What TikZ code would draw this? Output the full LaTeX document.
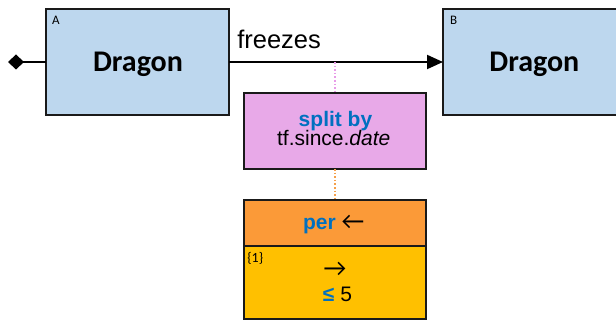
\documentclass[tikz,border=0pt]{standalone}
\usepackage{fontspec}
\setmainfont{Liberation Sans}
\newfontfamily\carlito{Carlito}
\usetikzlibrary{arrows.meta}
\definecolor{boxblue}{HTML}{BDD7EE}
\definecolor{pinkbox}{HTML}{E8A9E8}
\definecolor{orangebox}{HTML}{FB9A38}
\definecolor{yellowbox}{HTML}{FFC000}
\definecolor{txtblue}{HTML}{0070C0}
\definecolor{edgecol}{HTML}{1A1A1A}
\definecolor{pinkline}{HTML}{E89CE8}
\definecolor{orangeline}{HTML}{F5A04A}
\begin{document}
\begin{tikzpicture}[x=1pt,y=-1pt,
  shapebox/.style={draw=edgecol, line width=2pt, inner sep=0pt, outer sep=0pt},
  dragonbox/.style={shapebox, fill=boxblue, minimum width=183pt, minimum height=106pt},
  midbox/.style={shapebox, minimum width=182pt},
  txt/.style={inner sep=0pt, outer sep=0pt},
  dragontxt/.style={txt, anchor=base, font=\carlito\bfseries\fontsize{30}{34}\selectfont},
  tagtxt/.style={txt, anchor=base west, font=\carlito\fontsize{13}{15}\selectfont},
  bodytxt/.style={txt, anchor=base, font=\fontsize{21}{25}\selectfont},
  connector/.style={draw=black, line width=2pt},
  dotline/.style={line width=1.6pt, dotted}
]
\path[use as bounding box, clip] (0,0) rectangle (616,320);
\fill[white] (0,0) rectangle (616,320);

% boxes
\node[dragonbox] (A) at (137.5,62) {};
\node[dragonbox] (B) at (534.5,62) {};
\node[midbox, fill=pinkbox, minimum height=75.7pt] (P) at (335,131.2) {};
\node[midbox, fill=orangebox, minimum height=45.7pt] (O) at (335,222.8) {};
\node[midbox, fill=yellowbox, minimum height=73.6pt] (Y) at (335,282.5) {};

% texts
\node[dragontxt] (Atxt) at (138,71.5) {Dragon};
\node[dragontxt] (Btxt) at (534.3,71.5) {Dragon};
\node[tagtxt] (Atag) at (52,24.5) {A};
\node[tagtxt] (Btag) at (450,24.5) {B};
\node[txt, anchor=base west, font=\fontsize{25.5}{30}\selectfont] (fr) at (237.3,48.3) {freezes};
\node[bodytxt, font=\bfseries\fontsize{21}{25}\selectfont, text=txtblue] (sb) at (335.5,126.7) {split by};
\node[bodytxt] (tf) at (333.7,145.7) {tf.since.\textit{date}};
\node[bodytxt] (per) at (333.7,230) {\textcolor{txtblue}{\bfseries per} {\carlito\fontsize{25}{28}\selectfont ←}};
\node[tagtxt, font=\carlito\fontsize{14}{16}\selectfont] (ytag) at (247.3,262.5) {\{1\}};
\node[bodytxt, font=\carlito\fontsize{25}{28}\selectfont] (rarr) at (335,277) {→};
\node[bodytxt] (le) at (337.5,301.7) {\textcolor{txtblue}{\bfseries ≤} 5};

% connectors
\coordinate (dstart) at (8,62);
\coordinate (mid) at (335,62);
\draw[connector, {Diamond[length=16pt,width=15pt]}-] (dstart) -- (A.west);
\draw[connector, -{Triangle[length=16pt,width=14pt]}] (A.east) -- (B.west);
\draw[dotline, draw=pinkline] (mid) -- (P.north);
\draw[dotline, draw=orangeline] (P.south) -- (O.north);
\end{tikzpicture}
\end{document}
